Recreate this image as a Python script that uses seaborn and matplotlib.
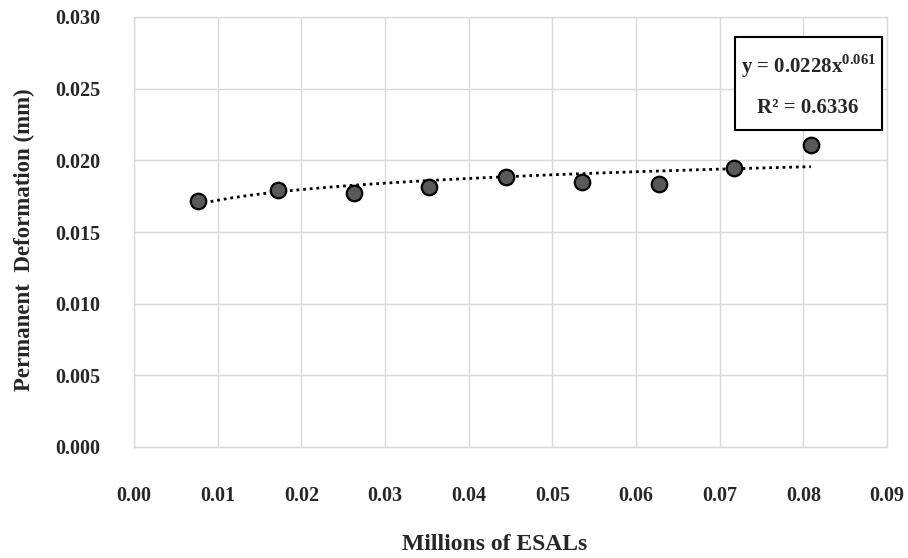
import numpy as np
import pandas as pd
import matplotlib
matplotlib.use("Agg")
import matplotlib.pyplot as plt
from matplotlib.patches import Rectangle
import seaborn as sns

# ---- data ----
esals = [0.0076, 0.0172, 0.0263, 0.0353, 0.0445, 0.0535, 0.0627, 0.0717, 0.0809]
deformation = [0.01713, 0.01790, 0.01774, 0.01816, 0.01883, 0.01848, 0.01832, 0.01944, 0.02105]
trend_a = 0.0228
trend_b = 0.061
x_ticks = [0.00, 0.01, 0.02, 0.03, 0.04, 0.05, 0.06, 0.07, 0.08, 0.09]
y_ticks = [0.000, 0.005, 0.010, 0.015, 0.020, 0.025, 0.030]
eq_label = "y = 0.0228x"
eq_exp = "0.061"
r2_label = "R² = 0.6336"
x_title = "Millions of ESALs"
y_title = "Permanent  Deformation (mm)"

sns.set_theme(style="white")
plt.rcParams["font.family"] = ["Liberation Serif", "DejaVu Serif"]
plt.rcParams["mathtext.fontset"] = "custom"
plt.rcParams["mathtext.rm"] = "Liberation Serif"
plt.rcParams["mathtext.bf"] = "Liberation Serif:bold"

df = pd.DataFrame({"x": esals, "y": deformation})
xt = np.linspace(min(esals), max(esals), 200)
tdf = pd.DataFrame({"x": xt, "y": trend_a * xt ** trend_b})

fig = plt.figure(figsize=(9.08, 5.58), dpi=100)
ax = fig.add_axes([134 / 908, 1 - 447 / 558, 753 / 908, 430 / 558])

sns.lineplot(data=tdf, x="x", y="y", ax=ax, color="black", lw=2.0,
             linestyle=(0, (1, 1.4)), zorder=3)
sns.scatterplot(data=df, x="x", y="y", ax=ax, s=125, color="#595959",
                edgecolor="black", linewidth=1.6, zorder=4)

ax.set_xlim(0, 0.09)
ax.set_ylim(0, 0.030)
ax.set_xticks(x_ticks)
ax.set_yticks(y_ticks)
ax.set_xticklabels([f"{v:.2f}" for v in x_ticks], fontsize=14.5, fontweight="bold")
ax.set_yticklabels([f"{v:.3f}" for v in y_ticks], fontsize=14.5, fontweight="bold")
ax.tick_params(axis="x", length=0, pad=28)
ax.tick_params(axis="y", length=0, pad=24)
ax.grid(True, color="#d9d9d9", lw=1)
for s in ax.spines.values():
    s.set_color("#d9d9d9")
    s.set_linewidth(1)
ax.set_xlabel("")
ax.set_ylabel("")

fig.text(495 / 908, 1 - 545 / 558, x_title, ha="center", va="center",
         fontsize=17, fontweight="bold")
fig.text(24 / 908, 1 - 240 / 558, y_title, ha="center", va="center",
         rotation=90, fontsize=16.5, fontweight="bold")

# equation box
fig.patches.append(Rectangle((735 / 908, 1 - 130 / 558), 147 / 908, 93 / 558,
                             transform=fig.transFigure, facecolor="white",
                             edgecolor="black", lw=1.5, zorder=5))
fig.text(809 / 908, 1 - 66 / 558, eq_label + r"$^{\mathbf{" + eq_exp + "}}$",
         ha="center", va="center", fontsize=15, fontweight="bold", zorder=6)
fig.text(808 / 908, 1 - 108 / 558, r2_label, ha="center", va="center",
         fontsize=15, fontweight="bold", zorder=6)

fig.savefig("out.png", dpi=100)
